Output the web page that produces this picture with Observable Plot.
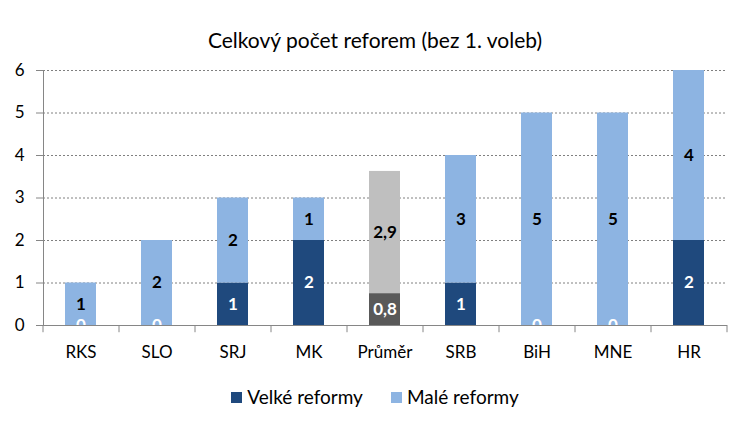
<!DOCTYPE html>
<html><head><meta charset="utf-8">
<script src="https://cdn.jsdelivr.net/npm/d3@7"></script>
<script src="https://cdn.jsdelivr.net/npm/@observablehq/plot@0.6"></script>
<style>
body{margin:0;background:#fff;font-family:Lato,"Open Sans",sans-serif;color:#000;}
#wrap{position:relative;width:750px;height:428px;overflow:hidden;}
#title{position:absolute;top:28px;left:0;width:750px;text-align:center;font-size:21px;line-height:24px;}
#legend{position:absolute;top:385px;left:0;width:750px;display:flex;justify-content:center;gap:28px;font-size:19px;line-height:24px;}
#legend span.item{display:flex;align-items:center;}
#legend span.sw{display:inline-block;width:11px;height:11px;margin-right:5px;}
#chart{position:absolute;top:0;left:0;}
</style>
</head><body>
<div id="wrap">
  <div id="chart"></div>
  <div id="title"></div>
  <div id="legend"></div>
</div>
<script>
const title = "Celkový počet reforem (bez 1. voleb)";
const categories = ["RKS","SLO","SRJ","MK","Průměr","SRB","BiH","MNE","HR"];
const series = ["Velké reformy","Malé reformy"];
const velke = [0,0,1,2,0.75,1,0,0,2];
const male  = [1,2,2,1,2.875,3,5,5,4];
const yTicks = [0,1,2,3,4,5,6];
const avgCategory = "Průměr";

const colors = {"Velké reformy":"#1F497D","Malé reformy":"#8DB4E2"};
const avgColors = {"Velké reformy":"#595959","Malé reformy":"#BFBFBF"};
const textColors = {"Velké reformy":"#ffffff","Malé reformy":"#000000"};

const rows = series.flatMap((s, si) => categories.map((c, i) => ({
  cat: c, series: s, value: si === 0 ? velke[i] : male[i]
})));

const fmt = d => d.cat === avgCategory ? d.value.toFixed(1).replace(".", ",") : String(d.value);
const fillOf = d => (d.cat === avgCategory ? avgColors : colors)[d.series];

const step = 684 / categories.length;

const plot = Plot.plot({
  width: 750,
  height: 428,
  marginTop: 70,
  marginBottom: 103,
  marginLeft: 43,
  marginRight: 23,
  style: {fontFamily: "Lato, 'Open Sans', sans-serif", fontSize: "16px", color: "#000", background: "transparent"},
  x: {domain: categories, paddingInner: 0.59, paddingOuter: 0.295, label: null},
  y: {domain: [0, 6], label: null},
  marks: [
    Plot.gridY(yTicks.filter(t => t > 0), {stroke: "#808080", strokeOpacity: 1, strokeDasharray: "2,2"}),
    Plot.barY(rows, Plot.stackY({x: "cat", y: "value", z: "series", fill: fillOf})),
    Plot.text(rows, Plot.stackY({x: "cat", y: "value", z: "series", text: fmt,
      fill: d => textColors[d.series], fontWeight: "bold", fontSize: 17})),
    Plot.ruleY([0], {stroke: "#868686", strokeWidth: 1}),
    Plot.ruleX(categories, {x: d => d, dx: -step / 2, y1: 0, y2: -0.17, stroke: "#868686"}),
    Plot.ruleX([categories[categories.length - 1]], {x: d => d, dx: step / 2, y1: 0, y2: -0.17, stroke: "#868686"}),
    Plot.frame({anchor: "left", stroke: "#868686"}),
    Plot.axisY({ticks: yTicks, tickSize: 7, tickPadding: 12, stroke: "#868686", fontSize: 17, tickFormat: d => String(d)}),
    Plot.axisX({tickSize: 0, tickPadding: 20, fontSize: 17})
  ]
});
document.getElementById("chart").appendChild(plot);
document.getElementById("title").textContent = title;
const leg = document.getElementById("legend");
series.forEach(s => {
  const it = document.createElement("span");
  it.className = "item";
  const sw = document.createElement("span");
  sw.className = "sw";
  sw.style.background = colors[s];
  it.appendChild(sw);
  it.appendChild(document.createTextNode(s));
  leg.appendChild(it);
});
</script>
</body></html>
